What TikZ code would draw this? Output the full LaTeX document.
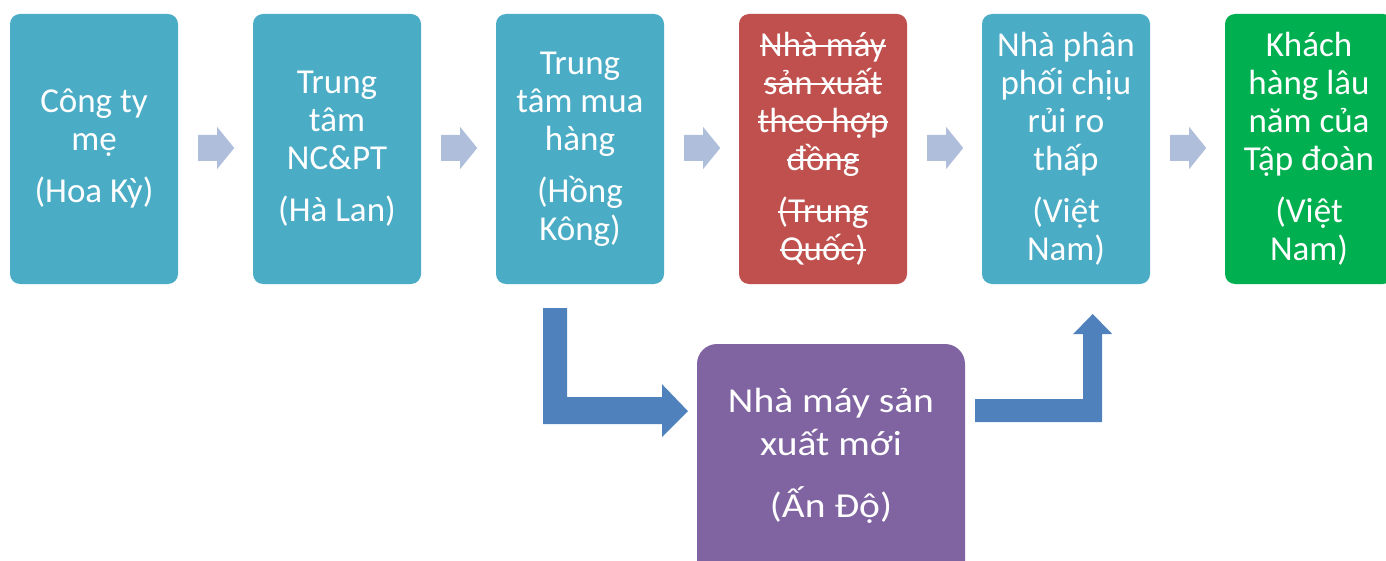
\documentclass[tikz,border=0pt]{standalone}
\usepackage{fontspec}
\setmainfont{Carlito}
\newfontfamily\widefont[FakeStretch=1.13]{Carlito}
\usetikzlibrary{calc}
\newsavebox{\strkbox}
\newcommand{\mystrike}[1]{\sbox{\strkbox}{#1}\rlap{\raisebox{0.27em}{\rule{\wd\strkbox}{1.8pt}}}\usebox{\strkbox}}
\definecolor{tealbox}{RGB}{75,172,198}
\definecolor{redbox}{RGB}{192,80,77}
\definecolor{purplebox}{RGB}{128,100,162}
\definecolor{greenbox}{RGB}{0,176,80}
\definecolor{bluearrow}{RGB}{79,129,189}
\definecolor{lightarrow}{RGB}{175,190,218}
\tikzset{
  box/.style={rounded corners=10pt, minimum width=168pt, minimum height=270pt,
    inner sep=0pt, align=center, text=white, font=\fontsize{35}{38}\selectfont},
  boxtext/.style={inner sep=0pt, align=center, text=white, font=\widefont\fontsize{35}{43}\selectfont},
  smallarrow/.style={fill=lightarrow},
  bentarrow/.style={fill=bluearrow}
}
\begin{document}
\begin{tikzpicture}[x=1pt,y=-1pt]
\useasboundingbox (0,0) rectangle (1386,561);
\clip (0,0) rectangle (1386,561);
\node[box, fill=tealbox] (b1) at (94,149) {Công ty\\mẹ\\[14pt](Hoa Kỳ)};
\node[box, fill=tealbox] (b2) at (337,149) {Trung\\tâm\\NC\&PT\\[14pt](Hà Lan)};
\node[box, fill=tealbox] (b3) at (580,149) {Trung\\tâm mua\\hàng\\[14pt](Hồng\\Kông)};
\node[box, fill=redbox] (b4) at (823,149) {\mystrike{Nhà máy}\\\mystrike{sản xuất}\\\mystrike{theo hợp}\\\mystrike{đồng}\\[14pt]\mystrike{(Trung}\\\mystrike{Quốc)}};
\node[box, fill=tealbox] (b5) at (1066,149) {Nhà phân\\phối chịu\\rủi ro\\thấp\\[14pt](Việt\\Nam)};
\node[box, fill=greenbox] (b6) at (1309,149) {Khách\\hàng lâu\\năm của\\Tập đoàn\\[14pt](Việt\\Nam)};
\node[box, fill=purplebox, rounded corners=20pt, minimum width=268pt] (nm) at (831,479) {};
\node[boxtext] (nmt) at (831,456) {Nhà máy sản\\xuất mới\\[19pt](Ấn Độ)};
% small arrows
\foreach \a in {b1,b2,b3,b4,b5}{
  \fill[smallarrow] ($(\a.east)+(20,-14)$) -- ++(19,0) -- ++(0,-8) -- ++(17,21)
    -- ++(-17,21) -- ++(0,-8) -- ++(-19,0) -- cycle;
}
% bent arrow from b3 to nm
\fill[bentarrow] ($(b3.south)+(-37,24)$) -- ++(24,0) -- ++(0,89) -- ++(95,0)
  -- ++(0,-13) -- ++(26,27) -- ++(-26,26) -- ++(0,-13) -- ++(-119,0) -- cycle;
% bent arrow from nm to b5
\fill[bentarrow] ($(nm.east)+(10,-80)$) -- ++(108,0) -- ++(0,-65) -- ++(-10,0)
  -- ++(19.5,-20) -- ++(19.5,20) -- ++(-10,0) -- ++(0,88) -- ++(-127,0) -- cycle;
\end{tikzpicture}
\end{document}
